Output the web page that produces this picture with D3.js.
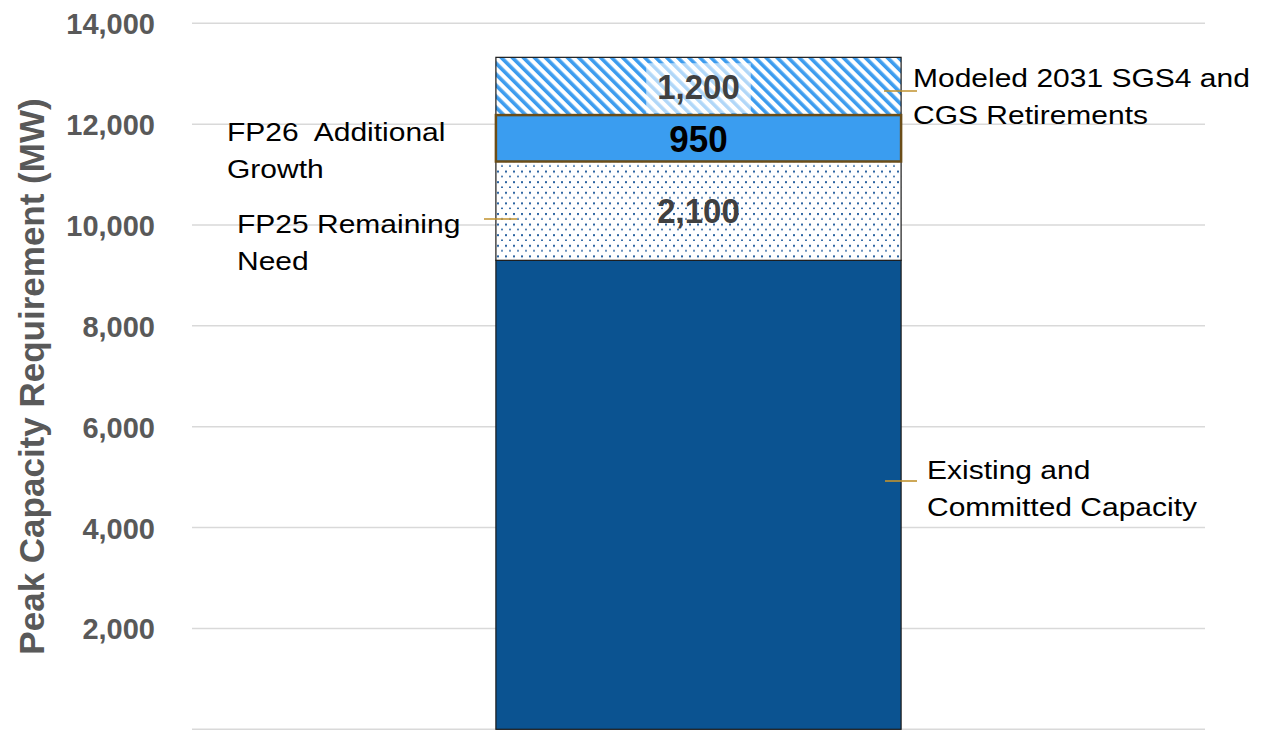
<!DOCTYPE html>
<html>
<head>
<meta charset="utf-8">
<script src="https://cdn.jsdelivr.net/npm/d3@7"></script>
<style>
  html, body { margin: 0; padding: 0; background: #fff; }
  svg { display: block; font-family: Arial, "Liberation Sans", Helvetica, sans-serif; }
</style>
</head>
<body>
<svg id="chart" width="1264" height="730"></svg>
<script>
// ---------------- data ----------------
const categories = ["2031"];
const segmentNames = [
  "Existing and Committed Capacity",
  "FP25 Remaining Need",
  "FP26 Additional Growth",
  "Modeled 2031 SGS4 and CGS Retirements"
];
const segmentValues = [9300, 1960, 920, 1145];
const segmentLabels = ["", "2,100", "950", "1,200"];
const yTicks = [2000, 4000, 6000, 8000, 10000, 12000, 14000];
const yTickLabels = ["2,000", "4,000", "6,000", "8,000", "10,000", "12,000", "14,000"];
const annotationLines = [
  ["Existing and", "Committed Capacity"],
  ["FP25 Remaining", "Need"],
  ["FP26  Additional", "Growth"],
  ["Modeled 2031 SGS4 and", "CGS Retirements"]
];
const yTitle = "Peak Capacity Requirement (MW)";

// ---------------- layout ----------------
const svg = d3.select("#chart");
const plot = { left: 192, right: 1205, top: 23.3, bottom: 729.3 };

const x = d3.scaleBand().domain(categories).range([plot.left, plot.right])
  .paddingInner(0).paddingOuter(0.75);
const y = d3.scaleLinear().domain([0, 14000]).range([plot.bottom, plot.top]);

// patterns
const defs = svg.append("defs");
const hatch = defs.append("pattern").attr("id", "hatch")
  .attr("patternUnits", "userSpaceOnUse").attr("width", 7.8).attr("height", 7.8)
  .attr("patternTransform", "rotate(-45)");
hatch.append("rect").attr("width", 7.8).attr("height", 7.8).attr("fill", "#fff");
hatch.append("rect").attr("x", 0).attr("width", 3.6).attr("height", 7.8).attr("fill", "#3d9cee");

const dots = defs.append("pattern").attr("id", "dots")
  .attr("patternUnits", "userSpaceOnUse").attr("width", 8).attr("height", 10.6);
dots.append("rect").attr("width", 8).attr("height", 10.6).attr("fill", "#fff");
dots.append("rect").attr("x", 1).attr("y", 1).attr("width", 2).attr("height", 2).attr("fill", "#2a62a0");
dots.append("rect").attr("x", 5).attr("y", 6.3).attr("width", 2).attr("height", 1.4).attr("fill", "#2a62a0");

const fills = ["#0b5391", "url(#dots)", "#3a9df0", "url(#hatch)"];
const strokes = ["#1a1a1a", "#1a1a1a", "#6b4d18", "#1a1a1a"];
const strokeW = [1.2, 1.2, 2.5, 1.2];

// gridlines
svg.append("g").selectAll("line").data([0].concat(yTicks)).join("line")
  .attr("x1", plot.left).attr("x2", plot.right)
  .attr("y1", d => y(d)).attr("y2", d => y(d))
  .attr("stroke", "#d9d9d9").attr("stroke-width", 1.5);

// y axis labels
const yAxis = d3.axisLeft(y).tickValues(yTicks)
  .tickFormat((d, i) => yTickLabels[i]).tickSize(0).tickPadding(0);
const gy = svg.append("g").attr("transform", "translate(155,0)").call(yAxis);
gy.select(".domain").remove();
gy.selectAll("text").attr("font-size", 29).attr("font-weight", "bold")
  .attr("fill", "#595959").attr("font-family", "Arial, 'Liberation Sans', sans-serif")
  .attr("dy", "0.36em");

// y title
svg.append("text")
  .attr("transform", `translate(44,${(100 + 653) / 2}) rotate(-90)`)
  .attr("text-anchor", "middle").attr("font-size", 35).attr("font-weight", "bold")
  .attr("fill", "#595959").text(yTitle);

// stacked segments
const stacked = [];
let acc = 0;
segmentValues.forEach((v, i) => { stacked.push({ i, y0: acc, y1: acc + v }); acc += v; });

const bx = x(categories[0]), bw = x.bandwidth();
const order = [0, 1, 3, 2]; // draw growth box last so its border is on top
svg.append("g").selectAll("rect").data(order.map(k => stacked[k])).join("rect")
  .attr("x", bx).attr("width", bw)
  .attr("y", d => y(d.y1)).attr("height", d => y(d.y0) - y(d.y1))
  .attr("fill", d => fills[d.i]).attr("stroke", d => strokes[d.i])
  .attr("stroke-width", d => strokeW[d.i]);

// segment value labels
const labelStyle = [
  null,
  { size: 33, sy: 1.04, color: "#404040" },
  { size: 35, sy: 1.05, color: "#000" },
  { size: 33, sy: 1.04, color: "#404040" }
];
stacked.forEach(d => {
  if (!segmentLabels[d.i]) return;
  const st = labelStyle[d.i];
  const cx = bx + bw / 2, cy = (y(d.y0) + y(d.y1)) / 2;
  const g = svg.append("g").attr("transform", `translate(${cx},${cy}) scale(1,${st.sy})`);
  const t = g.append("text").attr("text-anchor", "middle").attr("dy", "0.36em")
    .attr("font-size", st.size).attr("font-weight", "bold").attr("fill", st.color)
    .text(segmentLabels[d.i]);
  if (d.i === 3) {
    const bb = t.node().getBBox();
    g.insert("rect", "text").attr("x", bb.x - 11).attr("y", -23 / st.sy)
      .attr("width", bb.width + 22).attr("height", 50 / st.sy)
      .attr("fill", "#fff").attr("opacity", 0.6);
  }
});

// annotations (x, first baseline, leader line)
const annoLayout = [
  { x: 927, y: 479, lx1: 885, lx2: 917, ly: 481 },
  { x: 237, y: 233, lx1: 484, lx2: 517, ly: 219 },
  { x: 227, y: 141, lx1: null },
  { x: 913, y: 87, lx1: 884, lx2: 917, ly: 91 }
];
const sy = 0.88;
annoLayout.forEach((a, i) => {
  const g = svg.append("g").attr("transform", `translate(${a.x},${a.y}) scale(1,${sy})`);
  annotationLines[i].forEach((ln, j) => {
    g.append("text").attr("x", 0).attr("y", j * 37 / sy)
      .attr("font-size", 30).attr("fill", "#000").attr("xml:space", "preserve")
      .style("white-space", "pre").text(ln);
  });
  if (a.lx1 !== null) {
    svg.append("line").attr("x1", a.lx1).attr("x2", a.lx2).attr("y1", a.ly).attr("y2", a.ly)
      .attr("stroke", "#c0922e").attr("stroke-width", 1.6);
  }
});
</script>
</body>
</html>
